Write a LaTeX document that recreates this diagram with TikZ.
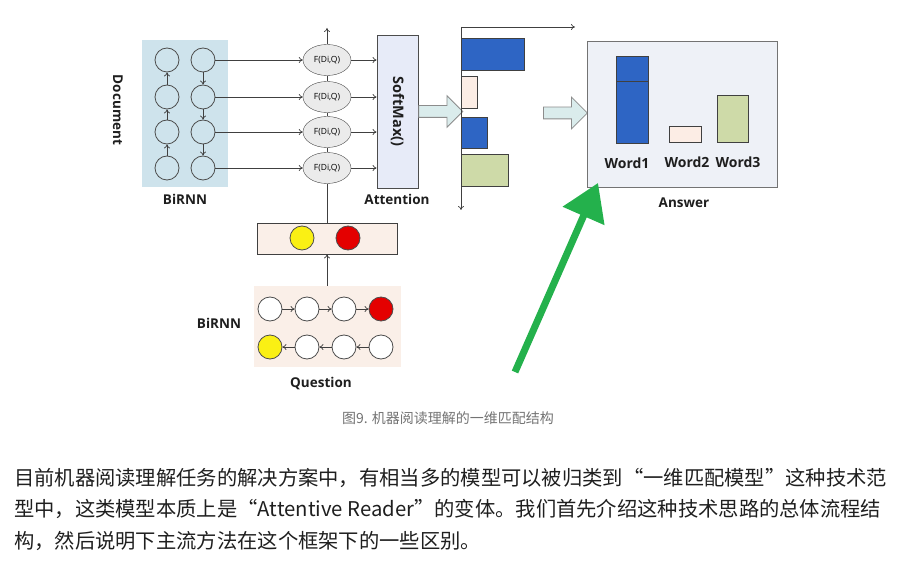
\documentclass[tikz,border=0pt]{standalone}
\usepackage{fontspec}
\setmainfont{Open Sans}
\newfontfamily\cjk{Noto Sans CJK SC}
\definecolor{docbg}{RGB}{206,227,236}
\definecolor{qbg}{RGB}{250,239,232}
\definecolor{attfill}{RGB}{231,235,248}
\definecolor{ansfill}{RGB}{238,241,247}
\definecolor{barblue}{RGB}{46,101,196}
\definecolor{barpink}{RGB}{252,237,229}
\definecolor{bargreen}{RGB}{206,218,168}
\definecolor{fatfill}{RGB}{218,236,236}
\definecolor{hintgreen}{RGB}{36,177,76}
\definecolor{dotyellow}{RGB}{250,240,20}
\definecolor{dotred}{RGB}{228,0,0}
\definecolor{lbltxt}{RGB}{30,30,30}
\usetikzlibrary{shapes.geometric,shapes.arrows,arrows.meta,positioning}

\begin{document}
\begin{tikzpicture}[x=1pt,y=-1pt,
  lbl/.style={font=\fontsize{13.5}{15}\selectfont\bfseries,text=lbltxt},
  cell/.style={circle,draw=black!70,minimum size=24pt,inner sep=0pt,line width=0.8pt},
  fdq/.style={ellipse,draw=black!70,fill=black!8,minimum width=48pt,minimum height=31pt,
    inner sep=0pt,font=\fontsize{8.5}{10}\selectfont},
  panel/.style={inner sep=0pt,line width=0.8pt},
  bar/.style={draw=black!75,anchor=north west,inner sep=0pt,line width=0.9pt},
  fat/.style={single arrow,draw=black!45,fill=fatfill,inner sep=5.5pt,single arrow head extend=10pt,
    minimum height=44pt,anchor=tail,line width=0.8pt},
  arr/.style={-{To[length=4pt,width=6pt]},black!75,line width=0.7pt},
  hint/.style={-{Triangle[length=36pt,width=44pt]},hintgreen,line width=7pt},
  para/.style={anchor=west,inner sep=0pt,font=\cjk\fontsize{20.3}{24}\selectfont,text=black!88}]
  \useasboundingbox (0,0) rectangle (916,564);

  % document encoder
  \node[panel,fill=docbg,minimum width=86pt,minimum height=147pt] (docback) at (185,113.5) {};
  \node[lbl,rotate=-90] (doclbl) at (118,110) {Document};
  \node[lbl] (docrnn) at (185,199) {BiRNN};
  \node[panel,draw=black!70,fill=attfill,minimum width=41pt,minimum height=153pt] (att) at (397.5,111.5) {};
  \node[lbl,font=\fontsize{14.5}{16}\selectfont\bfseries,rotate=-90] (smax) at (att) {SoftMax()};
  \node[lbl] (attlbl) at (397,199) {Attention};
  \foreach \i/\y in {1/60,2/97,3/132,4/168}{
    \node[cell] (dl\i) at (167,\y) {};
    \node[cell] (dr\i) at (203,\y) {};
    \node[fdq] (f\i) at (327,\y) {F(Di,Q)};
  }
  \foreach \i/\j in {4/3,3/2,2/1} \draw[arr] (dl\i) -- (dl\j);
  \foreach \i/\j in {1/2,2/3,3/4} \draw[arr] (dr\i) -- (dr\j);
  \foreach \i in {1,...,4}{
    \draw[arr] (dr\i) -- (f\i);
    \draw[arr] (f\i) -- (f\i -| att.west);
  }

  % question encoder
  \node[panel,draw=black!75,fill=qbg,minimum width=140pt,minimum height=31pt] (qvec) at (327,238.5) {};
  \node[cell,fill=dotyellow] (qy) at (302,238) {};
  \node[cell,fill=dotred] (qr) at (348,238) {};
  \node[panel,fill=qbg,minimum width=147pt,minimum height=81pt] (qback) at (327,326.5) {};
  \foreach \i/\x/\c in {1/270/white,2/307/white,3/344/white,4/381/dotred}
    \node[cell,fill=\c] (qf\i) at (\x,309) {};
  \foreach \i/\x/\c in {1/270/dotyellow,2/307/white,3/344/white,4/381/white}
    \node[cell,fill=\c] (qb\i) at (\x,347) {};
  \foreach \i/\j in {1/2,2/3,3/4} \draw[arr] (qf\i) -- (qf\j);
  \foreach \i/\j in {4/3,3/2,2/1} \draw[arr] (qb\i) -- (qb\j);
  \node[lbl] (qrnn) at (219,323) {BiRNN};
  \node[lbl] (qlbl) at (321,384) {Question};
  \draw[arr] (qback.north) -- (qvec.south);

  % line through the scores
  \coordinate (ftop) at (327,28);
  \draw[black!75,line width=0.7pt] (qvec.north) -- (f4.south);
  \draw[black!75,line width=0.7pt] (f4.north) -- (f3.south);
  \draw[black!75,line width=0.7pt] (f3.north) -- (f2.south);
  \draw[black!75,line width=0.7pt] (f2.north) -- (f1.south);
  \draw[arr] (f1.north) -- (ftop);

  % attention weights
  \node[fat] (fat1) at (att.east) {};
  \node[bar,fill=barblue,minimum width=63pt,minimum height=32pt] (b1) at (461,38) {};
  \node[bar,fill=barpink,minimum width=16pt,minimum height=32pt] (b2) at (461,76) {};
  \node[bar,fill=barblue,minimum width=26pt,minimum height=31pt] (b3) at (461,117) {};
  \node[bar,fill=bargreen,minimum width=47pt,minimum height=32pt] (b4) at (461,154) {};
  \coordinate (org) at (461,27);
  \coordinate (yend) at (461,210);
  \coordinate (xend) at (575,27);
  \draw[arr] (org) -- (yend);
  \draw[arr] (org) -- (xend);

  % answer
  \node[fat] (fat2) at (543,113) {};
  \node[panel,draw=black!55,fill=ansfill,minimum width=190pt,minimum height=146pt,anchor=north west] (ans) at (587,41) {};
  \node[bar,fill=barblue,minimum width=32pt,minimum height=25pt] (w1top) at (616,56) {};
  \node[bar,fill=barblue,minimum width=32pt,minimum height=62pt] (w1bot) at (616,81) {};
  \node[bar,fill=barpink,minimum width=32pt,minimum height=16pt] (w2) at (669,126) {};
  \node[bar,fill=bargreen,minimum width=31pt,minimum height=47pt] (w3) at (717,95) {};
  \node[lbl,font=\fontsize{14}{16}\selectfont\bfseries] (w1lbl) at (627,163) {Word1};
  \node[lbl,font=\fontsize{14}{16}\selectfont\bfseries] (w2lbl) at (687,162) {Word2};
  \node[lbl,font=\fontsize{14}{16}\selectfont\bfseries] (w3lbl) at (738,162) {Word3};
  \node[lbl] (anslbl) at (684,203) {Answer};

  \coordinate (gtail) at (515,372);
  \coordinate (gtip) at (598,183);
  \draw[hint] (gtail) -- (gtip);

  % caption and text
  \node[font=\cjk\fontsize{14}{16}\selectfont,text=black!55] (cap) at (448,418) {图9. 机器阅读理解的一维匹配结构};
  \node[para] (p1) at (14,478) {目前机器阅读理解任务的解决方案中，有相当多的模型可以被归类到“一维匹配模型”这种技术范};
  \node[para] (p2) at (14,509) {型中，这类模型本质上是“Attentive Reader”的变体。我们首先介绍这种技术思路的总体流程结};
  \node[para] (p3) at (14,541) {构，然后说明下主流方法在这个框架下的一些区别。};
\end{tikzpicture}
\end{document}
